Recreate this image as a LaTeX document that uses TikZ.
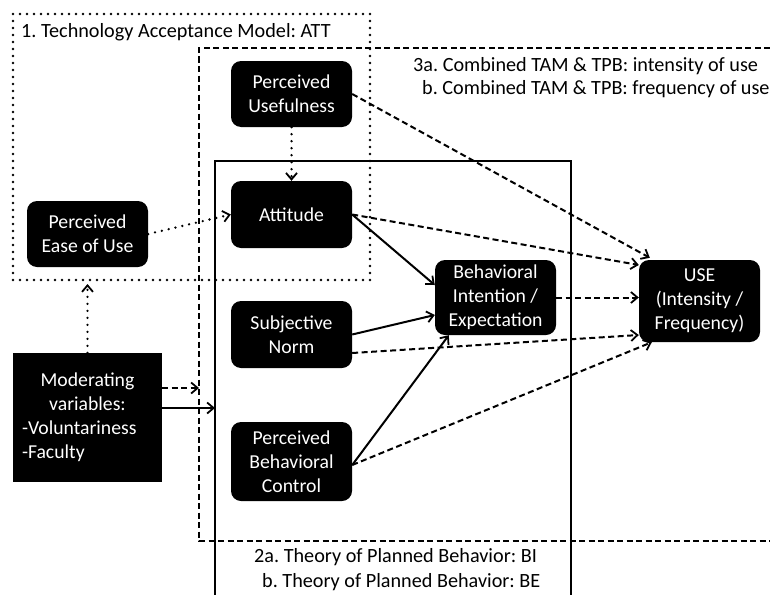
\documentclass[tikz,border=0pt]{standalone}
\usepackage{fontspec}
\setmainfont{Carlito}
\usetikzlibrary{arrows.meta}
\begin{document}
\frenchspacing
\begin{tikzpicture}[x=1pt,y=-1pt,
  blk/.style={fill=black, text=white, rounded corners=10pt, inner sep=0pt,
    minimum width=121pt, align=center, font=\fontsize{19.7}{24}\selectfont},
  sqblk/.style={fill=black, text=white, inner sep=0pt, align=left,
    font=\fontsize{19.7}{24}\selectfont},
  ttl/.style={anchor=west, inner sep=0pt, font=\fontsize{20.2}{24}\selectfont},
  dotline/.style={line width=2.6pt, dash pattern=on 0pt off 7pt, line cap=round},
  dashline/.style={line width=2pt, dash pattern=on 6pt off 3.5pt},
  solidline/.style={line width=2pt},
  arr/.style={-{Straight Barb[length=6.5pt,width=11pt,line width=1.8pt]}},
]
\useasboundingbox (0,0) rectangle (770,594);

% model frames
\draw[dotline] (13,14) rectangle (370,280);
\draw[dashline] (770,48) -- (199,48) -- (199,541) -- (770,541);
\draw[solidline] (215,596) -- (215,161) -- (571,161) -- (571,596);

% frame titles
\node[ttl] (tamttl) at (21,32) {1. Technology Acceptance Model: ATT};
\node[ttl] (combA) at (413,66) {3a. Combined TAM \& TPB: intensity of use};
\node[ttl] (combB) at (422,89) {b. Combined TAM \& TPB: frequency of use};
\node[ttl] (tpbA) at (254,557) {2a. Theory of Planned Behavior: BI};
\node[ttl] (tpbB) at (262,582) {b. Theory of Planned Behavior: BE};

% constructs
\node[blk, minimum height=66pt] (pu) at (291.5,94) {Perceived\\Usefulness};
\node[blk, minimum height=67pt] (att) at (291.5,214.5) {Attitude};
\node[blk, minimum height=66pt] (peou) at (87.5,234) {Perceived\\Ease of Use};
\node[blk, minimum height=67pt] (sn) at (291.5,334.5) {Subjective\\Norm};
\node[blk, minimum height=79pt] (pbc) at (291.5,461.5) {Perceived\\Behavioral\\Control};
\node[blk, minimum height=75pt] (bi) at (495.5,297.5) {Behavioral\\Intention /\\Expectation};
\node[blk, minimum height=82pt] (use) at (699.5,301) {USE\\(Intensity /\\Frequency)};
\node[sqblk, minimum width=149pt, minimum height=129pt] (mod) at (87.5,417.5)
  {\makebox[131pt]{Moderating}\\\makebox[131pt]{variables:}\\-Voluntariness\\-Faculty};

% frame targets of the moderators
\coordinate (tamfoot) at (87.5,284);
\coordinate (combedge) at (199,388);
\coordinate (tpbedge) at (215,408);

% TAM paths
\draw[dotline, arr] (pu.south) -- (att.north);
\draw[dotline, arr] (peou.east) -- (att.west);
\draw[dotline, arr] (mod.north) -- (tamfoot);

% moderators
\draw[dashline, arr] ([yshift=29.5pt]mod.east) -- (combedge);
\draw[solidline, arr] ([yshift=9.5pt]mod.east) -- (tpbedge);

% TPB paths
\draw[solidline, arr] (att.east) -- ([yshift=12.5pt]bi.west);
\draw[solidline, arr] (sn.east) -- ([yshift=-17.5pt]bi.west);
\draw[solidline, arr] ([yshift=-3.5pt]pbc.east) -- ([xshift=14pt]bi.south west);

% combined paths to use
\draw[dashline, arr] (pu.east) -- ([xshift=11pt,yshift=2pt]use.north west);
\draw[dashline, arr] (att.east) -- ([yshift=36pt]use.west);
\draw[dashline, arr] (bi.east) -- (bi.east -| use.west);
\draw[dashline, arr] ([yshift=-18.5pt]sn.east) -- ([yshift=-34pt]use.west);
\draw[dashline, arr] ([yshift=-3.5pt]pbc.east) -- ([xshift=13pt]use.south west);
\end{tikzpicture}
\end{document}
